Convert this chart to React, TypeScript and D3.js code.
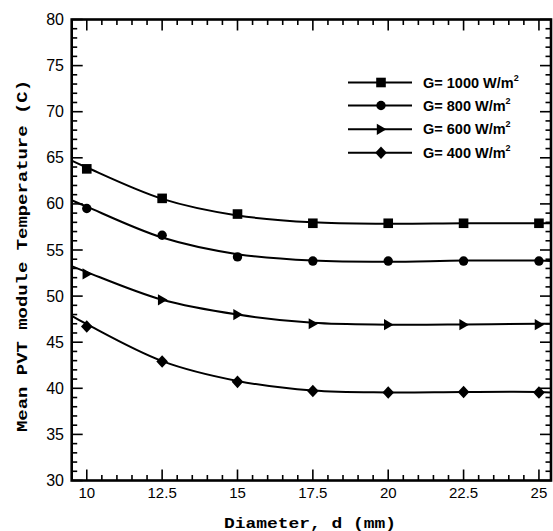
import React from "react";
import * as d3 from "d3";

// Marker data (diameter in mm, temperature in C)
const diameters = [10, 12.5, 15, 17.5, 20, 22.5, 25];
const g1000 = [63.8, 60.6, 58.9, 57.9, 57.9, 57.9, 57.9];
const g800 = [59.5, 56.6, 54.25, 53.8, 53.8, 53.8, 53.8];
const g600 = [52.4, 49.6, 48.0, 47.0, 46.9, 46.9, 46.9];
const g400 = [46.7, 42.9, 40.7, 39.7, 39.55, 39.6, 39.55];

// Fitted curve samples
const curveX = [9.5, 10, 12.5, 15, 17.5, 20, 22.5, 25, 25.4];
const fit1000 = [64.7, 63.95, 60.55, 58.75, 58.0, 57.85, 57.9, 57.9, 57.9];
const fit800 = [60.4, 59.7, 56.35, 54.55, 53.85, 53.72, 53.85, 53.85, 53.8];
const fit600 = [53.25, 52.6, 49.6, 48.0, 47.1, 46.9, 46.92, 47.0, 47.0];
const fit400 = [47.85, 46.95, 42.95, 40.8, 39.75, 39.55, 39.6, 39.6, 39.55];

const seriesNames = ["G= 1000 W/m", "G= 800 W/m", "G= 600 W/m", "G= 400 W/m"];
const markerKinds = ["square", "circle", "triangle", "diamond"];
const seriesValues = [g1000, g800, g600, g400];
const seriesFits = [fit1000, fit800, fit600, fit400];

const xMajor = [10, 12.5, 15, 17.5, 20, 22.5, 25];
const yMajor = [30, 35, 40, 45, 50, 55, 60, 65, 70, 75, 80];

const W = 553;
const H = 531;
const L = 71.7, R = 551, T = 19.5, B = 480.5;

function Marker({ kind, cx, cy }: { kind: string; cx: number; cy: number }) {
  if (kind === "square") return <rect x={cx - 4.8} y={cy - 4.8} width={9.6} height={9.6} fill="#000" />;
  if (kind === "circle") return <circle cx={cx} cy={cy} r={4.7} fill="#000" />;
  if (kind === "triangle")
    return <path d={`M${cx - 4.2},${cy - 5.6}L${cx + 5.4},${cy}L${cx - 4.2},${cy + 5.6}Z`} fill="#000" />;
  return <path d={`M${cx},${cy - 6.3}L${cx + 5.8},${cy}L${cx},${cy + 6.3}L${cx - 5.8},${cy}Z`} fill="#000" />;
}

export default function App() {
  const x = d3.scaleLinear().domain([9.5, 25.4]).range([L, R]);
  const y = d3.scaleLinear().domain([30, 80]).range([B, T]);

  const line = d3
    .line<number>()
    .x((_, i) => x(curveX[i]))
    .y((d) => y(d))
    .curve(d3.curveCatmullRom.alpha(0.5));

  const xMinor = d3.range(10, 25.01, 0.5).filter((v) => !xMajor.includes(v));
  const yMinor = d3.range(30, 80.01, 1).filter((v) => !yMajor.includes(v));

  const major = 11;
  const minor = 5.5;

  const legendX1 = 348, legendX2 = 412, legendM = 381, legendText = 423;
  const legendY = [82.5, 105.5, 129.3, 152.7];

  return (
    <svg width={W} height={H} style={{ position: "absolute", left: 0, top: 0, background: "#fff" }}>
      <rect x={0} y={0} width={W} height={H} fill="#fff" />
      <defs>
        <clipPath id="plotclip">
          <rect x={L} y={T} width={R - L} height={B - T} />
        </clipPath>
      </defs>

      {/* ticks */}
      <g stroke="#000" strokeWidth={1.6}>
        {xMajor.map((v) => (
          <g key={"xm" + v}>
            <line x1={x(v)} x2={x(v)} y1={B} y2={B - major} />
            <line x1={x(v)} x2={x(v)} y1={T} y2={T + major} />
          </g>
        ))}
        {xMinor.map((v) => (
          <g key={"xn" + v}>
            <line x1={x(v)} x2={x(v)} y1={B} y2={B - minor} />
            <line x1={x(v)} x2={x(v)} y1={T} y2={T + minor} />
          </g>
        ))}
        {yMajor.map((v) => (
          <g key={"ym" + v}>
            <line x1={L} x2={L + major} y1={y(v)} y2={y(v)} />
            <line x1={R} x2={R - major} y1={y(v)} y2={y(v)} />
          </g>
        ))}
        {yMinor.map((v) => (
          <g key={"yn" + v}>
            <line x1={L} x2={L + minor} y1={y(v)} y2={y(v)} />
            <line x1={R} x2={R - minor} y1={y(v)} y2={y(v)} />
          </g>
        ))}
      </g>

      {/* curves */}
      <g clipPath="url(#plotclip)">
        {seriesFits.map((fit, si) => (
          <path key={"c" + si} d={line(fit) || ""} fill="none" stroke="#000" strokeWidth={2} />
        ))}
        {seriesValues.map((vals, si) =>
          vals.map((v, i) => (
            <Marker key={"m" + si + "-" + i} kind={markerKinds[si]} cx={x(diameters[i])} cy={y(v)} />
          ))
        )}
      </g>

      {/* frame */}
      <rect x={L} y={T} width={R - L} height={B - T} fill="none" stroke="#000" strokeWidth={2.6} />

      {/* tick labels */}
      <g fontFamily="'Liberation Sans', Arial, sans-serif" fontSize={15} fill="#000">
        {xMajor.map((v) => (
          <text key={"xl" + v} x={x(v)} y={497.5} textAnchor="middle">
            {String(v)}
          </text>
        ))}
        {yMajor.map((v) => (
          <text key={"yl" + v} x={64} y={y(v) + 5.5} textAnchor="end" fontSize={16}>
            {String(v)}
          </text>
        ))}
      </g>

      {/* axis titles */}
      <text
        x={310}
        y={528}
        textAnchor="middle"
        fontFamily="'Liberation Mono', 'Courier New', monospace"
        fontWeight="bold"
        fontSize={14}
        textLength={172}
        lengthAdjust="spacingAndGlyphs"
      >
        Diameter, d (mm)
      </text>
      <text
        transform={`translate(27,256) rotate(-90)`}
        textAnchor="middle"
        fontFamily="'Liberation Mono', 'Courier New', monospace"
        fontWeight="bold"
        fontSize={15.5}
        textLength={352}
        lengthAdjust="spacingAndGlyphs"
      >
        Mean PVT module Temperature (C)
      </text>

      {/* legend */}
      {seriesNames.map((name, i) => (
        <g key={"lg" + i}>
          <line x1={legendX1} x2={legendX2} y1={legendY[i]} y2={legendY[i]} stroke="#000" strokeWidth={2} />
          <Marker kind={markerKinds[i]} cx={legendM} cy={legendY[i]} />
          <text
            x={legendText}
            y={legendY[i] + 5}
            fontFamily="'Liberation Sans', Arial, sans-serif"
            fontWeight="bold"
            fontSize={14.5}
          >
            {name}
            <tspan fontSize={9} dy={-7}>2</tspan>
          </text>
        </g>
      ))}
    </svg>
  );
}
